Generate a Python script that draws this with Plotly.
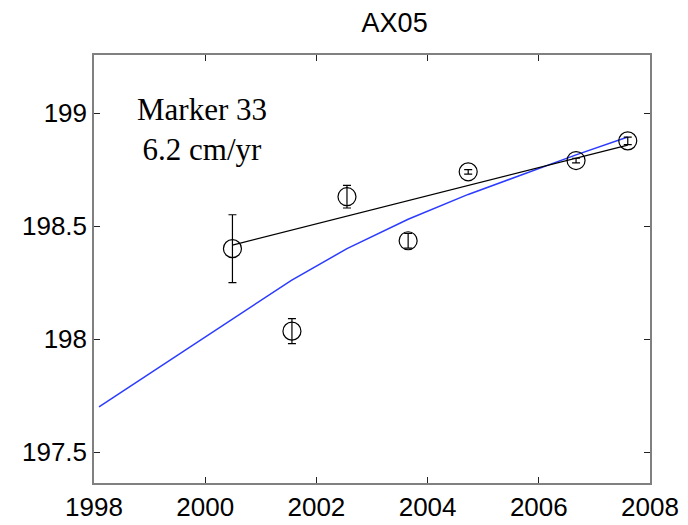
import plotly.graph_objects as go

# Observations
obs_year = [2000.49, 2001.56, 2002.55, 2003.65, 2004.73, 2006.67, 2007.60]
obs_elev = [198.40, 198.035, 198.63, 198.435, 198.74, 198.79, 198.877]
obs_err = [0.15, 0.055, 0.05, 0.033, 0.01, 0.01, 0.017]

# Linear fit (6.2 cm/yr)
fit_year = [2000.49, 2007.60]
fit_elev = [198.416, 198.858]

# Model (blue) curve
model_year = [1998.09, 2001.55, 2002.55, 2003.65, 2004.73, 2006.67, 2007.60]
model_elev = [197.70, 198.26, 198.40, 198.53, 198.64, 198.815, 198.894]

x_ticks = [1998, 2000, 2002, 2004, 2006, 2008]
y_ticks = [197.5, 198, 198.5, 199]

fig = go.Figure()
fig.add_trace(go.Scatter(x=model_year, y=model_elev, mode="lines",
                         line=dict(color="#2b3bff", width=1.5), showlegend=False))
fig.add_trace(go.Scatter(x=fit_year, y=fit_elev, mode="lines",
                         line=dict(color="black", width=1.2), showlegend=False))
fig.add_trace(go.Scatter(x=obs_year, y=obs_elev, mode="markers",
                         marker=dict(symbol="circle-open", size=18, color="black",
                                     line=dict(width=1.2, color="black")),
                         error_y=dict(type="data", array=obs_err, visible=True,
                                      color="black", thickness=1.2, width=4),
                         showlegend=False))

fig.add_annotation(x=(202 - 94) / 556, y=1 - (129 - 55) / 428, xref="paper", yref="paper",
                   text="Marker 33<br>6.2 cm/yr", showarrow=False,
                   align="center", xanchor="center", yanchor="middle",
                   font=dict(family="Liberation Serif", size=31, color="black"))

axis_common = dict(showgrid=False, zeroline=False, showline=True, linecolor="#808080",
                   linewidth=1.5, mirror="ticks", ticks="inside", ticklen=6,
                   tickcolor="#222222", tickwidth=1, automargin=False,
                   tickfont=dict(family="Liberation Sans", size=26, color="black"))

fig.update_layout(
    width=688, height=525,
    margin=dict(l=94, r=38, t=55, b=42, autoexpand=False),
    paper_bgcolor="white", plot_bgcolor="white",
    title=dict(text="AX05", x=372/688, xanchor="center", y=1-23/525, yanchor="middle",
               xref="paper", yref="container", automargin=False,
               font=dict(family="Liberation Sans", size=27, color="black")),
    xaxis=dict(range=[1998, 2008], tickvals=x_ticks, ticktext=[str(t) for t in x_ticks],
               **axis_common),
    yaxis=dict(range=[197.363, 199.257], tickvals=y_ticks,
               ticktext=["197.5", "198", "198.5", "199"], **axis_common),
)

fig.write_html("out.html", config={"displayModeBar": False},
               post_script="document.body.style.margin='0';document.body.style.overflow='hidden';")
